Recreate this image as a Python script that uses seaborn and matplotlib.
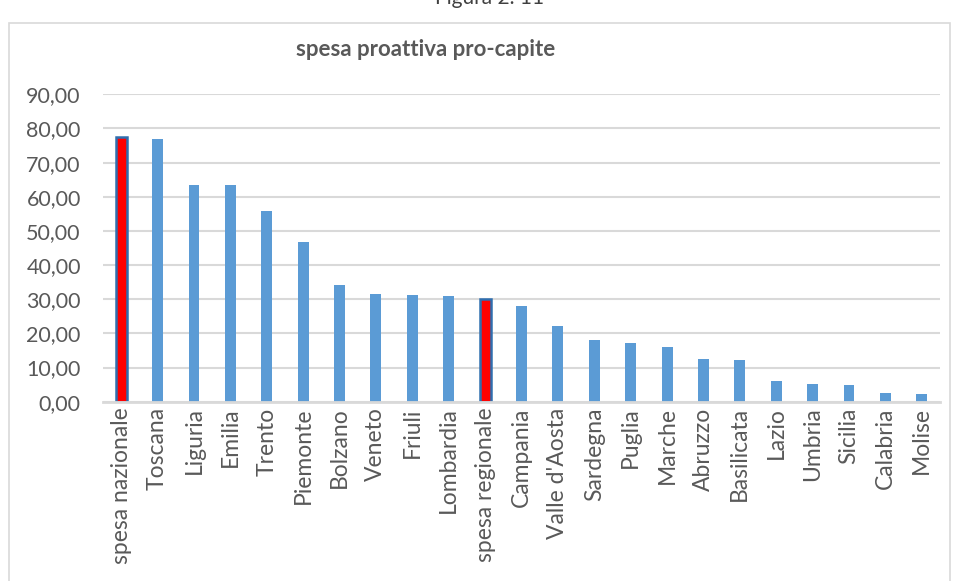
import matplotlib
matplotlib.use('Agg')
import matplotlib.pyplot as plt
import seaborn as sns
import pandas as pd
from matplotlib.patches import Rectangle
from matplotlib.ticker import FuncFormatter

# values
categories = ['spesa nazionale', 'Toscana', 'Liguria', 'Emilia', 'Trento', 'Piemonte',
              'Bolzano', 'Veneto', 'Friuli', 'Lombardia', 'spesa regionale', 'Campania',
              "Valle d'Aosta", 'Sardegna', 'Puglia', 'Marche', 'Abruzzo', 'Basilicata',
              'Lazio', 'Umbria', 'Sicilia', 'Calabria', 'Molise']
values = [77.4, 76.8, 63.4, 63.3, 55.7, 46.7, 34.2, 31.5, 31.2, 30.9, 30.2, 27.9,
          22.2, 18.1, 17.2, 16.1, 12.5, 12.1, 6.0, 5.1, 4.8, 2.5, 2.3]
highlight = ['spesa nazionale', 'spesa regionale']

BLUE = '#5B9BD5'
RED = '#FF0000'
EDGE = '#2F6EAF'
GREY_TXT = '#595959'
GRID = '#D9D9D9'

df = pd.DataFrame({'area': categories, 'spesa': values})
palette = {c: (RED if c in highlight else BLUE) for c in categories}

sns.set_style('white')
plt.rcParams['font.family'] = ['Lato', 'DejaVu Sans']

fig = plt.figure(figsize=(9.55, 5.81), dpi=100)
ax = fig.add_axes([103 / 955, 1 - 401.7 / 581, (940 - 103) / 955, (401.7 - 94.3) / 581])

sns.barplot(data=df, x='area', y='spesa', hue='area', palette=palette,
            legend=False, width=0.3, ax=ax, saturation=1)

for patch, cat in zip(ax.patches, categories):
    if cat in highlight:
        patch.set_edgecolor(EDGE)
        patch.set_linewidth(1.8)
    else:
        patch.set_edgecolor(BLUE)
        patch.set_linewidth(0)

ax.set_ylim(0, 90)
ax.set_yticks(range(0, 91, 10))
ax.yaxis.set_major_formatter(FuncFormatter(lambda v, p: f'{v:.2f}'.replace('.', ',')))
ax.set_xlim(-0.5, len(categories) - 0.5)
ax.grid(axis='y', color=GRID, linewidth=1.5)
ax.set_axisbelow(True)
for s in ['top', 'right', 'left']:
    ax.spines[s].set_visible(False)
ax.spines['bottom'].set_color(GRID)
ax.spines['bottom'].set_linewidth(2)
ax.tick_params(axis='both', length=0, colors=GREY_TXT)
ax.tick_params(axis='y', pad=16, labelsize=15.5)
ax.tick_params(axis='x', pad=4, labelsize=16.5)
plt.setp(ax.get_xticklabels(), rotation=90, va='top', ha='center')
ax.set_xlabel('')
ax.set_ylabel('')

fig.text(426 / 955, 1 - 49 / 581, 'spesa proattiva pro-capite', ha='center', va='center',
         fontsize=16, fontweight='bold', color=GREY_TXT)
fig.text(490 / 955, 1 + 2 / 581, 'Figura 2. 11', ha='center', va='center',
         fontsize=15, color='#404040')

fig.patches.append(Rectangle((9 / 955, -0.05), (950 - 9) / 955, 1.05 - 23 / 581,
                             transform=fig.transFigure, fill=False,
                             edgecolor=GRID, linewidth=1.2))

fig.savefig('out.png', dpi=100)
